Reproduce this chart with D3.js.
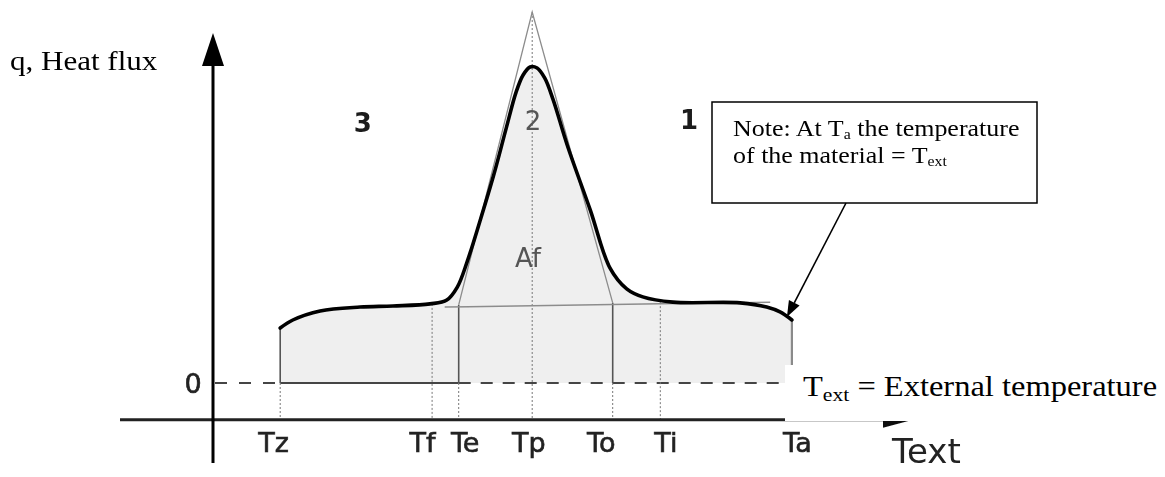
<!DOCTYPE html>
<html>
<head>
<meta charset="utf-8">
<script src="https://cdn.jsdelivr.net/npm/d3@7"></script>
<style>
  html, body { margin: 0; padding: 0; background: #fff; }
  svg { display: block; }
</style>
</head>
<body>
<svg id="chart" width="1165" height="477"></svg>
<script>
// Heat flux q against external temperature (relative units on both axes)
const curveT = [9.6, 11.4, 15.3, 21.0, 25.7, 31.0, 33.4, 34.9, 36.3, 38.1, 40.1, 41.9, 43.3, 44.3,
                45.3, 46.3, 47.4, 48.6, 50.6, 53.9, 56.7, 59.1, 61.4, 65.7, 75.3, 79.1, 81.0, 82.7];
const curveQ = [15.7, 18.0, 20.6, 21.7, 22.0, 22.6, 23.7, 27.4, 34.6, 46.0, 59.4, 72.9, 83.1, 88.0,
                90.3, 90.0, 87.1, 80.9, 68.0, 49.4, 32.9, 26.9, 24.6, 23.1, 22.9, 21.7, 20.3, 18.0];

// Characteristic temperatures on the horizontal axis
const tickNames = ["Tz", "Tf", "Te", "Tp", "To", "Ti", "Ta"];
const tickTemps = [9.6, 31.3, 35.1, 45.6, 57.1, 63.9, 82.7];
const tickTopQ  = [15.7, 22.6, 22.3, 106, 22.9, 23.1, 18.0];
const tickSolid = [true, false, true, false, true, false, true];
const tickLabelShift = [-7, -10, 6, -4, -12, 5, 5];

// Idealised triangular peak and its base line
const triangleT = [35.1, 45.6, 57.1];
const triangleQ = [22.3, 106, 22.9];
const baseT = [33.1, 79.6];
const baseQ = [21.7, 23.1];

// Zone numbers and the peak area label
const zoneNames = ["3", "2", "1"];
const zoneT = [21.4, 45.7, 68.0];
const zoneQ = [71.7, 72.3, 72.6];
const areaLabel = { text: "Af", t: 45.0, q: 33.1 };

const svg = d3.select("#chart");
const x = d3.scaleLinear().domain([0, 100]).range([213, 913]);
const y = d3.scaleLinear().domain([0, 100]).range([383, 33]);
const axisQ = -10.5;

const defs = svg.append("defs");
defs.append("filter").attr("id", "soft")
  .append("feGaussianBlur").attr("stdDeviation", 0.55);

const pts = curveT.map((t, i) => [t, curveQ[i]]);
const smooth = d3.curveCatmullRom.alpha(0.5);
const g = svg.append("g").attr("filter", "url(#soft)");

// shaded area under the curve down to q = 0
g.append("path")
  .datum(pts)
  .attr("d", d3.area().x(d => x(d[0])).y0(y(0)).y1(d => y(d[1])).curve(smooth))
  .attr("fill", "#efefef");

// q = 0 reference line: dashed outside Tz..Te, solid inside
const zeroY = y(0);
g.append("line").attr("x1", x(0) + 2).attr("x2", x(tickTemps[0])).attr("y1", zeroY).attr("y2", zeroY)
  .attr("stroke", "#444").attr("stroke-width", 2).attr("stroke-dasharray", "12,12");
g.append("line").attr("x1", x(tickTemps[0])).attr("x2", x(tickTemps[2])).attr("y1", zeroY).attr("y2", zeroY)
  .attr("stroke", "#444").attr("stroke-width", 2);
g.append("line").attr("x1", x(tickTemps[2])).attr("x2", 800).attr("y1", zeroY).attr("y2", zeroY)
  .attr("stroke", "#444").attr("stroke-width", 2).attr("stroke-dasharray", "12,10");

// vertical guides at each characteristic temperature
tickTemps.forEach((t, i) => {
  const xx = x(t);
  if (tickSolid[i]) {
    g.append("line").attr("x1", xx).attr("x2", xx).attr("y1", y(tickTopQ[i])).attr("y2", zeroY)
      .attr("stroke", i === 6 ? "#8a8a8a" : "#555").attr("stroke-width", i === 6 ? 2.2 : 1.6);
    g.append("line").attr("x1", xx).attr("x2", xx).attr("y1", zeroY).attr("y2", y(axisQ))
      .attr("stroke", "#777").attr("stroke-width", 1).attr("stroke-dasharray", "2,2");
  } else {
    g.append("line").attr("x1", xx).attr("x2", xx).attr("y1", y(tickTopQ[i])).attr("y2", y(axisQ))
      .attr("stroke", "#777").attr("stroke-width", 1).attr("stroke-dasharray", "2,2");
  }
});

// triangle approximation of the peak
g.append("path")
  .datum(triangleT.map((t, i) => [t, triangleQ[i]]))
  .attr("d", d3.line().x(d => x(d[0])).y(d => y(d[1])))
  .attr("fill", "none").attr("stroke", "#8c8c8c").attr("stroke-width", 1.3);

g.append("path")
  .datum(baseT.map((t, i) => [t, baseQ[i]]))
  .attr("d", d3.line().x(d => x(d[0])).y(d => y(d[1])))
  .attr("fill", "none").attr("stroke", "#8c8c8c").attr("stroke-width", 1.5);

// heat flux curve
g.append("path")
  .datum(pts)
  .attr("d", d3.line().x(d => x(d[0])).y(d => y(d[1])).curve(smooth))
  .attr("fill", "none").attr("stroke", "#000").attr("stroke-width", 3.6)
  .attr("stroke-linejoin", "round").attr("stroke-linecap", "round");

// zone labels
g.selectAll("text.zone").data(zoneNames).join("text")
  .attr("class", "zone")
  .attr("x", (d, i) => x(zoneT[i])).attr("y", (d, i) => y(zoneQ[i]))
  .attr("text-anchor", "middle")
  .attr("font-family", "DejaVu Sans").attr("font-size", 26)
  .attr("font-weight", (d, i) => i === 1 ? "normal" : "bold")
  .attr("fill", (d, i) => i === 1 ? "#555" : "#1a1a1a")
  .text(d => d);

g.append("text")
  .attr("x", x(areaLabel.t)).attr("y", y(areaLabel.q))
  .attr("text-anchor", "middle")
  .attr("font-family", "DejaVu Sans").attr("font-size", 26).attr("fill", "#555")
  .text(areaLabel.text);

// horizontal axis with temperature labels
const xAxis = d3.axisBottom(x).tickValues(tickTemps).tickFormat((d, i) => tickNames[i]).tickSize(0);
const xg = g.append("g").attr("transform", `translate(0,${y(axisQ)})`).call(xAxis);
xg.select(".domain").remove();
xg.selectAll("text")
  .attr("y", 32).attr("dy", 0)
  .attr("dx", (d, i) => tickLabelShift[i])
  .attr("font-family", "DejaVu Sans").attr("font-size", 27).attr("fill", "#222")
  .attr("stroke", "#222").attr("stroke-width", 0.6);

g.append("line").attr("x1", 120).attr("x2", x(100) - 20).attr("y1", y(axisQ)).attr("y2", y(axisQ))
  .attr("stroke", "#222").attr("stroke-width", 3);
g.append("path")
  .attr("d", `M${x(100)},${y(axisQ)} L${x(100) - 30},${y(axisQ) - 8} L${x(100) - 30},${y(axisQ) + 8} Z`)
  .attr("fill", "#111");

// vertical axis with the zero label
const yAxis = d3.axisLeft(y).tickValues([0]).tickFormat(d3.format("d")).tickSize(0);
const yg = g.append("g").attr("transform", `translate(${x(0)},0)`).call(yAxis);
yg.select(".domain").remove();
yg.selectAll("text")
  .attr("x", -20).attr("dy", "0.36em").attr("text-anchor", "middle")
  .attr("font-family", "DejaVu Sans").attr("font-size", 27).attr("fill", "#222")
  .attr("stroke", "#222").attr("stroke-width", 0.6);

g.append("line").attr("x1", x(0)).attr("x2", x(0)).attr("y1", y(100) + 20).attr("y2", 463)
  .attr("stroke", "#000").attr("stroke-width", 3);
g.append("path")
  .attr("d", `M${x(0)},${y(100)} L${x(0) - 11},${y(100) + 33} L${x(0) + 11},${y(100) + 33} Z`)
  .attr("fill", "#000");

g.append("text")
  .attr("x", 892).attr("y", 463)
  .attr("font-family", "DejaVu Sans").attr("font-size", 34).attr("fill", "#222")
  .text("Text");

// serif annotations
const serif = "Liberation Serif, Times New Roman, serif";

svg.append("text")
  .attr("transform", "translate(10,70) scale(1.15,1)")
  .attr("font-family", serif).attr("font-size", 27).attr("fill", "#000")
  .text("q, Heat flux");

svg.append("rect").attr("x", 785).attr("y", 365).attr("width", 380).attr("height", 56).attr("fill", "#fff");
const ext = svg.append("text")
  .attr("transform", "translate(803,396) scale(1.14,1)")
  .attr("font-family", serif).attr("font-size", 28.5).attr("fill", "#000");
ext.append("tspan").text("T");
ext.append("tspan").attr("font-size", 19).attr("dy", 5).text("ext");
ext.append("tspan").attr("dy", -5).text(" = External temperature");

// note box with arrow to the end of the curve
svg.append("rect").attr("x", 712).attr("y", 102).attr("width", 325).attr("height", 101)
  .attr("fill", "#fff").attr("stroke", "#000").attr("stroke-width", 1.5);

const note1 = svg.append("text")
  .attr("transform", "translate(733,136) scale(1.13,1)")
  .attr("font-family", serif).attr("font-size", 23).attr("fill", "#000");
note1.append("tspan").text("Note: At T");
note1.append("tspan").attr("font-size", 14).attr("dy", 3).text("a");
note1.append("tspan").attr("dy", -3).text(" the temperature");

const note2 = svg.append("text")
  .attr("transform", "translate(733,163) scale(1.13,1)")
  .attr("font-family", serif).attr("font-size", 23).attr("fill", "#000");
note2.append("tspan").text("of the material = T");
note2.append("tspan").attr("font-size", 14).attr("dy", 3).text("ext");

const tipX = x(curveT[curveT.length - 1]) - 5;
const tipY = y(curveQ[curveQ.length - 1]) - 3;
const startX = 846, startY = 203;
const ang = Math.atan2(tipY - startY, tipX - startX);
const headLen = 16, headW = 6;
const bx = tipX - headLen * Math.cos(ang), by = tipY - headLen * Math.sin(ang);
svg.append("line").attr("x1", startX).attr("y1", startY).attr("x2", bx).attr("y2", by)
  .attr("stroke", "#000").attr("stroke-width", 1.6);
svg.append("path")
  .attr("d", `M${tipX},${tipY} L${bx + headW * Math.sin(ang)},${by - headW * Math.cos(ang)} L${bx - headW * Math.sin(ang)},${by + headW * Math.cos(ang)} Z`)
  .attr("fill", "#000");
</script>
</body>
</html>
